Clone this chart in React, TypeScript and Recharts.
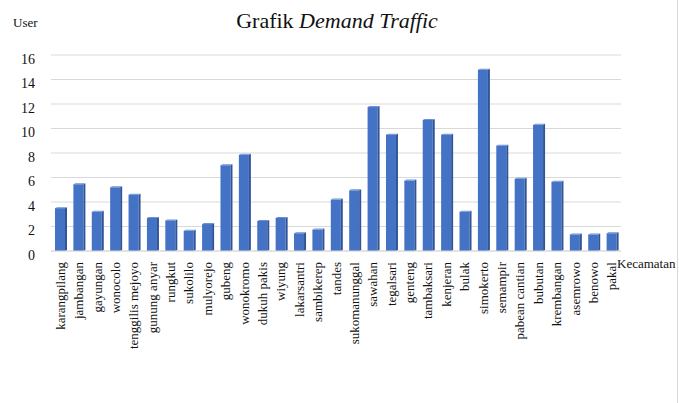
import React from 'react';
import { BarChart, Bar, XAxis, YAxis, CartesianGrid } from 'recharts';

const kecamatan = [
  'karangpilang', 'jambangan', 'gayungan', 'wonocolo', 'tenggilis mejoyo', 'gunung anyar',
  'rungkut', 'sukolilo', 'mulyorejo', 'gubeng', 'wonokromo', 'dukuh pakis', 'wiyung',
  'lakarsantri', 'sambikerep', 'tandes', 'sukomanunggal', 'sawahan', 'tegalsari', 'genteng',
  'tambaksari', 'kenjeran', 'bulak', 'simokerto', 'semampir', 'pabean cantian', 'bubutan',
  'krembangan', 'asemrowo', 'benowo', 'pakal',
];

const userValues = [
  3.5, 5.45, 3.2, 5.2, 4.6, 2.7, 2.5, 1.65, 2.2, 7.0, 7.85, 2.45, 2.7, 1.45, 1.75, 4.2,
  4.95, 11.75, 9.5, 5.75, 10.7, 9.5, 3.2, 14.8, 8.6, 5.9, 10.3, 5.65, 1.35, 1.35, 1.45,
];

const yTicks = [0, 2, 4, 6, 8, 10, 12, 14, 16];

const data = kecamatan.map((name, i) => ({ name, user: userValues[i] }));

const FONT = '"Liberation Serif", "Times New Roman", serif';

const Bar3D = (props: any) => {
  const { x, y, width, height } = props;
  if (!height || height <= 0) return null;
  const d = 2;
  return (
    <g>
      <rect x={x} y={y} width={width} height={height} fill="#4472C4" />
      <polygon
        points={`${x + width},${y} ${x + width + d},${y - 1} ${x + width + d},${y + height - 1} ${x + width},${y + height}`}
        fill="#2F5597"
      />
      <polygon
        points={`${x},${y} ${x + d},${y - 1} ${x + width + d},${y - 1} ${x + width},${y}`}
        fill="#6A8FD6"
      />
    </g>
  );
};

const XTick = (props: any) => {
  const { x, y, payload } = props;
  return (
    <text
      x={x}
      y={y}
      dy="0.35em"
      textAnchor="end"
      transform={`rotate(-90, ${x}, ${y})`}
      fontFamily={FONT}
      fontSize={13}
      fill="#111"
    >
      {payload.value}
    </text>
  );
};

const YTick = (props: any) => {
  const { x, y, payload } = props;
  return (
    <text x={x} y={y + 4} dy="0.35em" textAnchor="end" fontFamily={FONT} fontSize={14} fill="#111">
      {payload.value}
    </text>
  );
};

export default function App() {
  return (
    <div style={{ position: 'absolute', left: 0, top: 0, width: 679, height: 403, background: '#fff' }}>
      <BarChart
        width={679}
        height={403}
        data={data}
        margin={{ top: 55, right: 58, bottom: 32, left: 0 }}
        barSize={10}
      >
        <CartesianGrid vertical={false} stroke="#d9d9d9" />
        <XAxis
          dataKey="name"
          interval={0}
          height={120}
          tick={<XTick />}
          tickLine={false}
          tickSize={0}
          tickMargin={11}
          axisLine={{ stroke: '#d9d9d9' }}
        />
        <YAxis
          width={51}
          domain={[0, 16]}
          ticks={yTicks}
          tick={<YTick />}
          tickLine={false}
          tickSize={0}
          tickMargin={16}
          axisLine={false}
        />
        <Bar dataKey="user" shape={<Bar3D />} isAnimationActive={false} />
      </BarChart>
      <svg
        width={679}
        height={403}
        style={{ position: 'absolute', left: 0, top: 0, pointerEvents: 'none' }}
      >
        <text x={337} y={28} textAnchor="middle" fontFamily={FONT} fontSize={22} fill="#111">
          Grafik <tspan fontStyle="italic">Demand Traffic</tspan>
        </text>
        <text x={13} y={27} fontFamily={FONT} fontSize={13} fill="#111">User</text>
        <text x={617} y={268} fontFamily={FONT} fontSize={13} fill="#111">Kecamatan</text>
        <line x1={677.5} y1={0} x2={677.5} y2={403} stroke="#d9d9d9" />
      </svg>
    </div>
  );
}
